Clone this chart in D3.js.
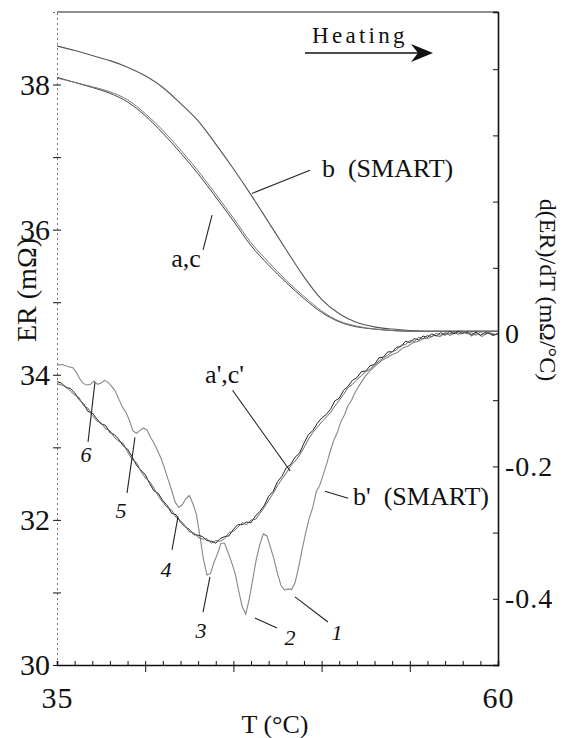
<!DOCTYPE html>
<html><head><meta charset="utf-8">
<script src="https://cdn.jsdelivr.net/npm/d3@7"></script>
<style>
body{margin:0;background:#fff}
svg text{font-family:"Liberation Serif","DejaVu Serif","Noto Serif","Times New Roman",serif !important;fill:#111}
</style>
</head><body>
<svg id="chart" width="564" height="738"></svg>
<script>
// ---------- data ----------
const erT = d3.range(35, 61, 1);
const erB  = [38.53,38.47,38.40,38.33,38.24,38.12,37.96,37.74,37.50,37.18,36.84,36.48,36.10,35.72,35.35,35.04,34.84,34.72,34.66,34.63,34.61,34.60,34.60,34.60,34.60,34.60];
const erA  = [38.10,38.03,37.96,37.88,37.76,37.57,37.33,37.06,36.77,36.45,36.12,35.78,35.51,35.27,35.05,34.86,34.73,34.66,34.63,34.61,34.60,34.60,34.60,34.60,34.60,34.60];
const erC  = [38.09,38.03,37.97,37.90,37.79,37.60,37.37,37.10,36.81,36.49,36.16,35.82,35.55,35.30,35.08,34.88,34.74,34.67,34.63,34.61,34.60,34.60,34.60,34.60,34.60,34.60];

const dT = d3.range(0, 101).map(i => 35 + i * 0.25);
const dA = [-0.072,-0.074,-0.081,-0.082,-0.089,-0.099,-0.105,-0.117,-0.119,-0.128,-0.136,-0.138,-0.149,-0.152,-0.159,-0.169,-0.174,-0.185,-0.198,-0.206,-0.212,-0.226,-0.237,-0.241,-0.252,-0.259,-0.271,-0.273,-0.284,-0.291,-0.295,-0.303,-0.304,-0.306,-0.312,-0.313,-0.316,-0.309,-0.306,-0.305,-0.295,-0.288,-0.288,-0.284,-0.285,-0.275,-0.268,-0.259,-0.245,-0.238,-0.223,-0.215,-0.202,-0.197,-0.186,-0.180,-0.165,-0.152,-0.146,-0.135,-0.127,-0.122,-0.114,-0.101,-0.097,-0.085,-0.079,-0.070,-0.066,-0.057,-0.056,-0.048,-0.046,-0.036,-0.035,-0.027,-0.027,-0.020,-0.019,-0.011,-0.013,-0.007,-0.009,-0.003,-0.005,0.000,-0.003,0.002,-0.002,0.004,0.000,0.004,0.001,0.003,-0.001,0.003,-0.002,0.002,0.001,-0.002,0.001];
const dC = [-0.075,-0.077,-0.079,-0.086,-0.092,-0.096,-0.108,-0.112,-0.123,-0.131,-0.134,-0.143,-0.146,-0.156,-0.162,-0.165,-0.178,-0.189,-0.194,-0.207,-0.217,-0.223,-0.233,-0.245,-0.254,-0.262,-0.266,-0.277,-0.282,-0.289,-0.299,-0.300,-0.307,-0.310,-0.309,-0.316,-0.312,-0.313,-0.309,-0.300,-0.298,-0.292,-0.285,-0.288,-0.281,-0.280,-0.271,-0.262,-0.251,-0.241,-0.229,-0.219,-0.210,-0.199,-0.192,-0.183,-0.172,-0.159,-0.149,-0.141,-0.133,-0.126,-0.119,-0.109,-0.100,-0.091,-0.081,-0.076,-0.069,-0.063,-0.057,-0.053,-0.047,-0.041,-0.036,-0.032,-0.027,-0.024,-0.017,-0.016,-0.010,-0.011,-0.005,-0.007,-0.002,-0.004,0.001,-0.002,0.002,0.000,0.003,-0.001,0.004,0.000,0.002,-0.002,0.003,-0.001,0.002,0.000,-0.001];

const bT = [35.0,35.3,35.6,35.9,36.1,36.3,36.5,36.7,36.9,37.1,37.3,37.5,37.7,37.9,38.1,38.3,38.5,38.7,38.9,39.1,39.3,39.5,39.7,39.9,40.1,40.3,40.5,40.7,40.9,41.1,41.3,41.5,41.7,41.9,42.1,42.3,42.5,42.7,42.9,43.1,43.3,43.5,43.7,43.9,44.1,44.3,44.5,44.7,44.9,45.1,45.3,45.5,45.7,45.9,46.1,46.3,46.5,46.7,46.9,47.1,47.3,47.5,47.7,47.9,48.1,48.3,48.5,48.7,48.9,49.1,49.3,49.5,49.7,49.9,50.1,50.3,50.5,50.7,50.9,51.1,51.3,51.5,51.7,51.9,52.2,52.5,52.8,53.1,53.4,53.7,54.0,54.3,54.6,54.9,55.2,55.5,55.8,56.1,56.4,56.7,57.0,57.3,57.6,57.9,58.2,58.5,58.8,59.1,59.4,59.7,60.0];
const bD = [-0.047,-0.046,-0.049,-0.051,-0.058,-0.068,-0.075,-0.077,-0.076,-0.071,-0.076,-0.074,-0.070,-0.073,-0.079,-0.086,-0.098,-0.110,-0.118,-0.130,-0.146,-0.150,-0.146,-0.142,-0.145,-0.156,-0.165,-0.176,-0.188,-0.203,-0.220,-0.236,-0.254,-0.262,-0.258,-0.249,-0.244,-0.256,-0.272,-0.305,-0.340,-0.364,-0.362,-0.345,-0.332,-0.316,-0.316,-0.330,-0.345,-0.362,-0.388,-0.412,-0.423,-0.400,-0.370,-0.340,-0.318,-0.302,-0.305,-0.322,-0.340,-0.362,-0.380,-0.387,-0.385,-0.386,-0.375,-0.352,-0.325,-0.300,-0.278,-0.262,-0.238,-0.228,-0.212,-0.195,-0.176,-0.160,-0.148,-0.132,-0.122,-0.108,-0.100,-0.088,-0.075,-0.063,-0.054,-0.047,-0.040,-0.036,-0.031,-0.028,-0.021,-0.018,-0.013,-0.011,-0.007,-0.006,-0.002,-0.004,0.001,-0.002,0.003,0.000,0.004,-0.003,0.002,-0.004,0.003,-0.002,0.000];

const leftTicks = [30,32,34,36,38];
const leftMinor = d3.range(30, 39, 1);
const rightTicks = [0,-0.2,-0.4];
const rightMinor = [-0.5,-0.4,-0.3,-0.2,-0.1,0,0.1,0.2,0.3,0.4];
const xLabels = [35,60];
const xMinor = d3.range(35, 61, 1);
const xMajor = [40,45,50,55];

// annotations in data coordinates: [T, value]
const numLabels = [
  {t:"6", text:[36.64,-0.193], l1:[36.76,-0.163], l2:[37.15,-0.073]},
  {t:"5", text:[38.63,-0.278], l1:[38.97,-0.240], l2:[39.42,-0.156]},
  {t:"4", text:[41.18,-0.367], l1:[41.52,-0.326], l2:[41.86,-0.276]},
  {t:"3", text:[43.16,-0.459], l1:[43.28,-0.420], l2:[43.67,-0.367]},
  {t:"2", text:[48.21,-0.470], l1:[46.22,-0.429], l2:[47.47,-0.444]},
  {t:"1", text:[50.87,-0.462], l1:[48.49,-0.397], l2:[50.36,-0.435]}
];

// ---------- scales ----------
const L = 57, R = 498, T0 = 12, B = 665;
const x = d3.scaleLinear([35,60],[L,R]);
const yL = d3.scaleLinear([30,39],[B,T0]);
const yR = d3.scaleLinear([-0.5,0.4864],[B,T0]);

const svg = d3.select("#chart");
const FONT = '"Liberation Serif","DejaVu Serif","Noto Serif",serif';

svg.append("line").attr("x1",L).attr("x2",R).attr("y1",T0).attr("y2",T0)
  .attr("stroke","#222").attr("stroke-width",1.2);

// left axis
const gl = svg.append("g").attr("transform",`translate(${L},0)`);
gl.call(d3.axisLeft(yL).tickValues(leftMinor).tickSize(4).tickFormat(""));
gl.select(".domain").attr("stroke","#777").attr("stroke-dasharray","2,3").attr("stroke-width",1);
const gl2 = svg.append("g").attr("transform",`translate(${L},0)`);
gl2.call(d3.axisRight(yL).tickValues(leftMinor).tickSize(4).tickFormat(""));
gl2.select(".domain").remove();
const gll = svg.append("g").attr("transform",`translate(${L},0)`);
gll.call(d3.axisLeft(yL).tickValues(leftTicks).tickSize(0).tickPadding(7));
gll.attr("font-family",FONT);
gll.select(".domain").remove();
gll.selectAll("text").attr("font-size",30);

// bottom axis
const gb = svg.append("g").attr("transform",`translate(0,${B})`);
gb.call(d3.axisTop(x).tickValues(xMinor).tickSize(4).tickFormat(""));
gb.select(".domain").attr("stroke","#111").attr("stroke-width",1.6);
const gb2 = svg.append("g").attr("transform",`translate(0,${B})`);
gb2.call(d3.axisBottom(x).tickValues(xMajor).tickSize(7).tickFormat(""));
gb2.select(".domain").remove();
const gbl = svg.append("g").attr("transform",`translate(0,${B})`);
gbl.call(d3.axisBottom(x).tickValues(xLabels).tickSize(0).tickPadding(22));
gbl.attr("font-family",FONT);
gbl.select(".domain").remove();
gbl.selectAll("text").attr("font-size",30).attr("letter-spacing",1);

// right axis
const gr = svg.append("g").attr("transform",`translate(${R},0)`);
gr.call(d3.axisLeft(yR).tickValues(rightMinor).tickSize(5).tickFormat(""));
gr.select(".domain").attr("stroke","#111").attr("stroke-width",1.6);
const grl = svg.append("g").attr("transform",`translate(${R},0)`);
grl.call(d3.axisRight(yR).tickValues(rightTicks).tickSize(0).tickPadding(7)
  .tickFormat(d => d === 0 ? "0" : d.toFixed(1)));
grl.attr("font-family",FONT);
grl.select(".domain").remove();
grl.selectAll("text").attr("font-size",28).attr("letter-spacing",1);

svg.selectAll(".tick line").attr("stroke","#111");

// axis titles
svg.append("text").attr("x",275).attr("y",733).attr("text-anchor","middle")
  .attr("font-size",26).text("T (°C)");
svg.append("text").attr("transform","translate(36,290) rotate(-90)").attr("text-anchor","middle")
  .attr("font-size",28).text("ER  (mΩ)");
svg.append("text").attr("transform","translate(540,290) rotate(90)").attr("text-anchor","middle")
  .attr("font-size",24).text("d(ER)/dT  (mΩ/°C)");

// curves
const lineL = d3.line().x(d => x(d[0])).y(d => yL(d[1])).curve(d3.curveMonotoneX);
const lineR = d3.line().x(d => x(d[0])).y(d => yR(d[1]));
const zip = (a,b) => a.map((v,i) => [v,b[i]]);

svg.append("path").attr("d", lineL(zip(erT,erB))).attr("fill","none").attr("stroke","#555").attr("stroke-width",1.1);
svg.append("path").attr("d", lineL(zip(erT,erA))).attr("fill","none").attr("stroke","#444").attr("stroke-width",1);
svg.append("path").attr("d", lineL(zip(erT,erC))).attr("fill","none").attr("stroke","#777").attr("stroke-width",1);

svg.append("path").attr("d", lineR(zip(bT,bD))).attr("fill","none").attr("stroke","#888").attr("stroke-width",1.1);
svg.append("path").attr("d", lineR(zip(dT,dA))).attr("fill","none").attr("stroke","#222").attr("stroke-width",1);
svg.append("path").attr("d", lineR(zip(dT,dC))).attr("fill","none").attr("stroke","#666").attr("stroke-width",1);

// label leaders & texts
const seg = (p1,p2,sc) => svg.append("line")
  .attr("x1",x(p1[0])).attr("y1",sc(p1[1])).attr("x2",x(p2[0])).attr("y2",sc(p2[1]))
  .attr("stroke","#222").attr("stroke-width",1.1);

seg([46.05,36.50],[49.34,36.82],yL);
svg.append("text").attr("x",x(50.02)).attr("y",yL(36.72)).attr("font-size",26).attr("xml:space","preserve").text("b  (SMART)");

seg([43.79,36.20],[43.28,35.72],yL);
svg.append("text").attr("x",x(43.15)).attr("y",yL(35.48)).attr("text-anchor","end").attr("font-size",26).text("a,c");

seg([44.95,-0.085],[48.22,-0.207],yR);
svg.append("text").attr("x",x(44.5)).attr("y",yR(-0.074)).attr("text-anchor","middle").attr("font-size",26).text("a',c'");

seg([50.19,-0.2376],[51.5,-0.248],yR);
svg.append("text").attr("x",x(51.78)).attr("y",yR(-0.258)).attr("font-size",26).attr("xml:space","preserve").text("b'  (SMART)");

numLabels.forEach(n => {
  seg(n.l1, n.l2, yR);
  svg.append("text").attr("x",x(n.text[0])).attr("y",yR(n.text[1])).attr("text-anchor","middle")
    .attr("font-size",22).attr("font-style","italic").text(n.t);
});

// Heating arrow
svg.append("text").attr("x",312).attr("y",43).attr("font-size",23).attr("letter-spacing",3.3).text("Heating");
svg.append("line").attr("x1",305).attr("x2",424).attr("y1",53).attr("y2",53).attr("stroke","#111").attr("stroke-width",1.4);
svg.append("path").attr("d","M433,53 L411,44 L418,53 L411,62 Z").attr("fill","#111");
</script>
</body></html>
